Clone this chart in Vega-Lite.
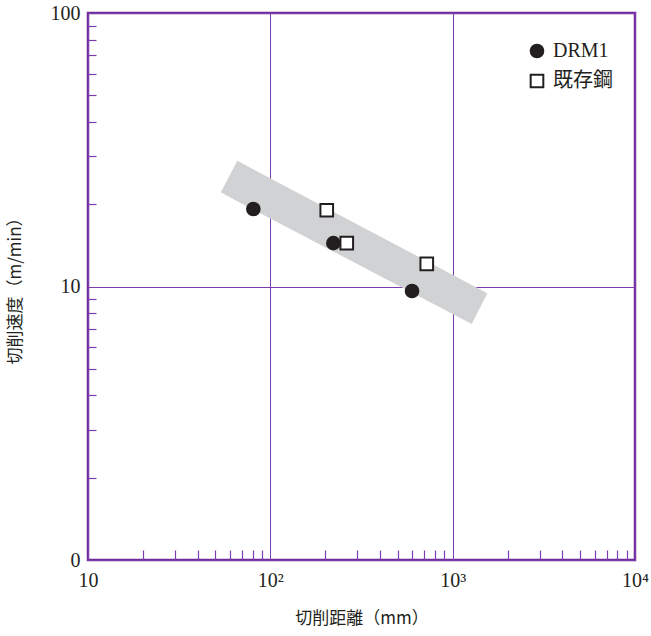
{
  "$schema": "https://vega.github.io/schema/vega-lite/v6.json",
  "width": 547,
  "height": 547,
  "autosize": {"type": "none"},
  "padding": {"left": 88, "top": 13, "right": 16, "bottom": 76},
  "background": "white",
  "config": {
    "view": {"stroke": "#6e2c9c", "strokeWidth": 2.5},
    "font": "Liberation Serif"
  },
  "datasets": {
    "band": [
      {"x": 53.5, "y": 22.1, "y2": 22.1},
      {"x": 65.9, "y": 28.8, "y2": 20.5},
      {"x": 1273, "y": 10.13, "y2": 7.29},
      {"x": 1549, "y": 9.44, "y2": 9.44}
    ],
    "pts": [
      {"dist": 80.7, "speed": 19.2, "type": "DRM1"},
      {"dist": 221.6, "speed": 14.4, "type": "DRM1"},
      {"dist": 598.7, "speed": 9.63, "type": "DRM1"},
      {"dist": 203.9, "speed": 19.0, "type": "既存鋼"},
      {"dist": 262.5, "speed": 14.4, "type": "既存鋼"},
      {"dist": 721, "speed": 12.1, "type": "既存鋼"}
    ]
  },
  "layer": [
    {
      "data": {"name": "band"},
      "mark": {"type": "area", "color": "#d1d2d4", "interpolate": "linear", "opacity": 1},
      "encoding": {
        "x": {
          "field": "x", "type": "quantitative",
          "scale": {"type": "log", "domain": [10, 10000], "nice": false},
          "axis": {
            "orient": "bottom",
            "values": [10, 100, 1000, 10000],
            "labelExpr": "datum.value == 10 ? '10' : datum.value == 100 ? '10²' : datum.value == 1000 ? '10³' : '10⁴'",
            "domain": false, "ticks": false,
            "grid": true, "gridColor": "#7d3cae", "gridWidth": 1, "gridOpacity": 1,
            "labelFontSize": 20, "labelColor": "#231f20", "labelPadding": 10, "labelFlush": false,
            "title": "切削距離（mm）",
            "titleFont": "Noto Sans CJK JP", "titleFontWeight": "normal", "titleFontSize": 17,
            "titleColor": "#231f20", "titlePadding": 20
          }
        },
        "y": {
          "field": "y", "type": "quantitative",
          "scale": {"type": "log", "domain": [1, 100], "nice": false},
          "axis": {
            "orient": "left",
            "values": [1, 10, 100],
            "labelExpr": "datum.value == 1 ? '0' : datum.value == 10 ? '10' : '100'",
            "domain": false, "ticks": false,
            "grid": true, "gridColor": "#7d3cae", "gridWidth": 1, "gridOpacity": 1,
            "labelFontSize": 20, "labelColor": "#231f20", "labelPadding": 8, "labelFlush": false,
            "title": "切削速度（m/min）",
            "titleFont": "Noto Sans CJK JP", "titleFontWeight": "normal", "titleFontSize": 17,
            "titleColor": "#231f20", "titlePadding": 26
          }
        },
        "y2": {"field": "y2"}
      }
    },
    {
      "data": {"name": "pts"},
      "mark": {"type": "point", "filled": true, "opacity": 1, "stroke": "#231f20", "strokeWidth": 2, "size": 160},
      "encoding": {
        "x": {
          "field": "dist", "type": "quantitative",
          "axis": {
            "orient": "bottom",
            "values": [20, 30, 40, 50, 60, 70, 80, 90, 200, 300, 400, 500, 600, 700, 800, 900, 2000, 3000, 4000, 5000, 6000, 7000, 8000, 9000],
            "labels": false, "domain": false, "grid": false,
            "ticks": true, "tickSize": -10, "tickColor": "#7d3cae", "tickWidth": 1.2,
            "title": null
          }
        },
        "y": {
          "field": "speed", "type": "quantitative",
          "axis": {
            "orient": "left",
            "values": [2, 3, 4, 5, 6, 7, 8, 9, 20, 30, 40, 50, 60, 70, 80, 90],
            "labels": false, "domain": false, "grid": false,
            "ticks": true, "tickSize": -8, "tickColor": "#7d3cae", "tickWidth": 1.2,
            "title": null
          }
        },
        "shape": {
          "field": "type", "type": "nominal",
          "scale": {"domain": ["DRM1", "既存鋼"], "range": ["circle", "square"]},
          "legend": {
            "title": null, "orient": "none", "legendX": 439, "legendY": 28,
            "padding": 0, "rowPadding": 8, "symbolSize": 160, "symbolStrokeWidth": 2,
            "symbolStrokeColor": "#231f20", "symbolOpacity": 1,
            "labelFont": "Liberation Serif, Noto Sans CJK JP", "labelFontSize": 20,
            "labelColor": "#231f20", "labelOffset": 6,
            "encode": {"symbols": {"update": {"stroke": {"value": "#231f20"}, "strokeWidth": {"value": 2}}}}
          }
        },
        "fill": {
          "field": "type", "type": "nominal",
          "scale": {"domain": ["DRM1", "既存鋼"], "range": ["#231f20", "white"]},
          "legend": {
            "title": null, "orient": "none", "legendX": 439, "legendY": 28,
            "padding": 0, "rowPadding": 8, "symbolSize": 160, "symbolStrokeWidth": 2,
            "symbolStrokeColor": "#231f20", "symbolOpacity": 1,
            "labelFont": "Liberation Serif, Noto Sans CJK JP", "labelFontSize": 20,
            "labelColor": "#231f20", "labelOffset": 6,
            "encode": {"symbols": {"update": {"stroke": {"value": "#231f20"}, "strokeWidth": {"value": 2}}}}
          }
        }
      }
    }
  ],
  "resolve": {"axis": {"x": "independent", "y": "independent"}}
}
